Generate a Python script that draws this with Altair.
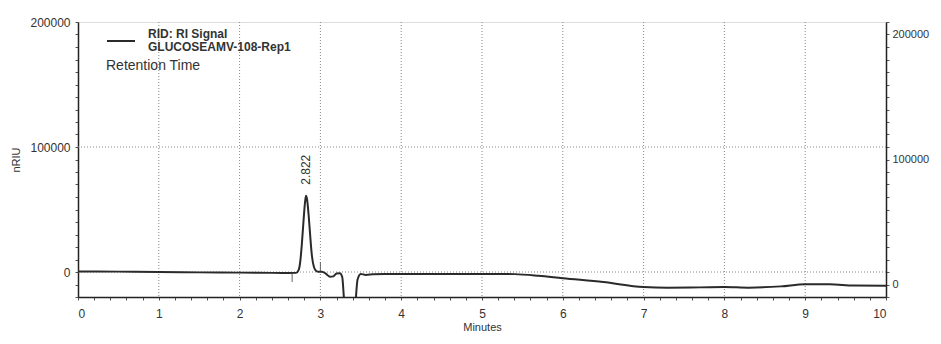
import altair as alt
import pandas as pd

# ---- data ----
times = [0.0, 0.5, 1.0, 1.5, 2.0, 2.4, 2.6, 2.70, 2.73, 2.75, 2.77, 2.79, 2.81, 2.822,
         2.835, 2.855, 2.875, 2.895, 2.92, 2.95, 2.98, 3.02, 3.07, 3.12, 3.16, 3.2,
         3.24, 3.27, 3.29, 3.31, 3.42, 3.44, 3.46, 3.5, 3.56, 3.65, 3.8, 4.0, 4.5,
         5.0, 5.4, 5.7, 6.0, 6.5, 7.0, 7.3, 7.7, 8.0, 8.3, 8.7, 9.0, 9.3, 9.6, 10.0]
signal = [500, 300, 0, -300, -500, -700, -800, -700, 1500, 8000, 22000, 40000, 56000, 61000,
          58000, 45000, 28000, 13000, 4000, 700, 200, 300, -1500, -3800, -3500, -1200,
          -1000, -4000, -20000, -40000, -40000, -20000, -6000, -1500, -2300, -1800, -1500, -1500, -1500,
          -1500, -1700, -3000, -5000, -8000, -12000, -12500, -12300, -12000, -12500, -11500, -9800, -9800, -10800, -11000]

grid_x = [1, 2, 3, 4, 5, 6, 7, 8, 9]
grid_y = [0, 100000]
peak_time = [2.822]
peak_height = [61000]
peak_label = ["2.822"]
marker_time = [2.65, 3.0]
marker_lo = [-1500, 500]
marker_hi = [-8000, 8000]
legend_lines = ["RID: RI Signal", "GLUCOSEAMV-108-Rep1"]
legend_note = "Retention Time"

df = pd.DataFrame({"t": times, "s": signal})
gx = pd.DataFrame({"g": grid_x})
gy = pd.DataFrame({"g": grid_y})
pk = pd.DataFrame({"t": peak_time, "s": peak_height, "label": peak_label})
mk = pd.DataFrame({"t": marker_time, "lo": marker_lo, "hi": marker_hi})

xs = alt.Scale(domain=[0, 10], nice=False, zero=False)
ys = alt.Scale(domain=[-20000, 200000], nice=False, zero=False)

x_ticks = [i / 5 for i in range(51)]
y_ticks = list(range(-20000, 200001, 10000))

x_axis = alt.Axis(values=x_ticks, labelExpr="datum.value % 1 == 0 ? format(datum.value, 'd') : ''",
                  title="Minutes", domain=True, domainColor="#222", domainWidth=1.5,
                  grid=False, tickSize=3, tickColor="#555",
                  labelPadding=8, labelFontSize=12, labelColor="#333", labelOverlap=False,
                  titleFontSize=11, titleFontWeight="normal", titleColor="#333", titlePadding=2)
y_left = alt.Axis(values=y_ticks, labelExpr="datum.value % 100000 == 0 && datum.value >= 0 ? format(datum.value, 'd') : ''",
                  title="nRIU", domain=True, domainColor="#222", domainWidth=1.5,
                  grid=False, tickSize=3, tickColor="#555",
                  labelPadding=5, labelFontSize=12, labelColor="#333", labelOverlap=False,
                  titleFontSize=11, titleFontWeight="normal", titleColor="#333", titlePadding=8)
y_right = alt.Axis(orient="right", values=y_ticks,
                   labelExpr="datum.value % 100000 == 0 && datum.value >= 0 ? format(datum.value, 'd') : ''",
                   title=None, domain=True, domainColor="#222", domainWidth=1.5,
                   grid=False, tickSize=3, tickColor="#555",
                   labelPadding=3, labelFontSize=11, labelColor="#333", labelOverlap=False,
                   labelOffset=12)

X = lambda f: alt.X(f, scale=xs, axis=x_axis)

vgrid = alt.Chart(gx).mark_rule(strokeDash=[1, 2], color="#888", strokeWidth=1).encode(
    x=X("g:Q"))
hgrid = alt.Chart(gy).mark_rule(strokeDash=[1, 2], color="#888", strokeWidth=1).encode(
    y=alt.Y("g:Q", scale=ys, axis=None))

line = alt.Chart(df).mark_line(color="#2a2a2a", strokeWidth=2, clip=True, interpolate="monotone").encode(
    x=X("t:Q"),
    y=alt.Y("s:Q", scale=ys, axis=y_left))

right = alt.Chart(df).mark_line(opacity=0).encode(
    x=X("t:Q"),
    y=alt.Y("s:Q", scale=ys, axis=y_right))

markers = alt.Chart(mk).mark_rule(color="#666", strokeWidth=1).encode(
    x=X("t:Q"),
    y=alt.Y("lo:Q", scale=ys, axis=None), y2="hi:Q")

plabel = alt.Chart(pk).mark_text(angle=270, align="left", baseline="middle", dx=11,
                                 fontSize=12, color="#333", font="Liberation Sans").encode(
    x=X("t:Q"),
    y=alt.Y("s:Q", scale=ys, axis=None), text="label:N")

one = pd.DataFrame({"k": [0]})
leg_line = alt.Chart(one).mark_rule(color="#2a2a2a", strokeWidth=2).encode(
    x=alt.value(29), x2=alt.value(57), y=alt.value(19))
leg_text1 = alt.Chart(one).mark_text(
    align="left", baseline="middle", fontSize=12, fontWeight="bold", color="#333", font="Liberation Sans").encode(
    x=alt.value(70), y=alt.value(12), text=alt.value(legend_lines[0]))
leg_text2 = alt.Chart(one).mark_text(
    align="left", baseline="middle", fontSize=12, fontWeight="bold", color="#333", font="Liberation Sans").encode(
    x=alt.value(70), y=alt.value(25), text=alt.value(legend_lines[1]))
leg_text3 = alt.Chart(one).mark_text(
    align="left", baseline="middle", fontSize=14, color="#333", font="Liberation Sans").encode(
    x=alt.value(28), y=alt.value(44), text=alt.value(legend_note))

chart = alt.layer(vgrid, hgrid, markers, line, right, plabel,
                  leg_line, leg_text1, leg_text2, leg_text3).resolve_axis(y="independent").properties(
    width=808, height=275,
    autosize=alt.AutoSizeParams(type="none"),
    padding={"left": 70, "top": 14, "right": 47, "bottom": 39},
    background="white",
).configure_view(stroke="#222", strokeWidth=1.5).configure(font="Liberation Sans")

chart.save("out.html", embed_options={"renderer": "svg", "actions": False})
